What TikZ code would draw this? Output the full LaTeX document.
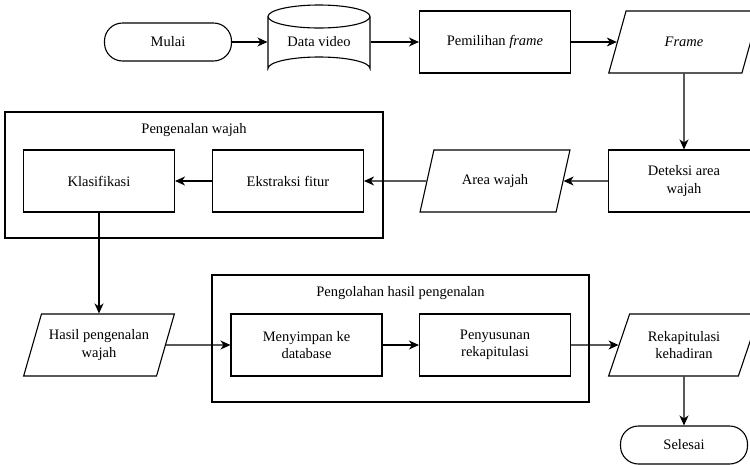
\documentclass[tikz,border=0pt]{standalone}
\usepackage{fontspec}
\setmainfont{Liberation Serif}
\usetikzlibrary{positioning, shapes.geometric, arrows.meta}

\begin{document}
\begin{tikzpicture}[x=1pt, y=-1pt, line width=1.1pt,
    every node/.style={font=\fontsize{14.5}{17.5}\selectfont, align=center},
    proc/.style={draw, rectangle, minimum width=151pt, minimum height=62pt, inner sep=2pt},
    term/.style={draw, rectangle, rounded corners=18pt, minimum width=127pt, minimum height=38pt},
    io/.style={draw, trapezium, trapezium left angle=65, trapezium right angle=115,
               trapezium stretches=true, minimum width=151pt, minimum height=62pt, inner sep=2pt},
    groupbox/.style={draw, rectangle},
    flow/.style={-{Stealth[length=10pt, width=9pt, inset=3pt]}}]
      \useasboundingbox (0,0) rectangle (750,464);
      %% Group boxes
      \node[groupbox, minimum width=378pt, minimum height=126pt] (gpw) at (194,175) {};
      \node (gpwtitle) at (194,130) {Pengenalan wajah};
      \node[groupbox, minimum width=377pt, minimum height=127pt] (gph) at (400.5,338.5) {};
      \node (gphtitle) at (400.5,293) {Pengolahan hasil pengenalan};
      %% Top row
      \node[term] (mulai) at (168,42) {Mulai};
      \node[minimum width=102pt, minimum height=75pt] (video) at (319,42) {Data video};
      \draw (268,16.5) -- (268,68.5) arc[start angle=180, end angle=360, x radius=51, y radius=11.5] -- (370,16.5);
      \draw (319,16.5) ellipse [x radius=51, y radius=11.5];
      \node[proc] (pilih) at (495,42) {Pemilihan \textit{frame}};
      \node[io] (frame) at (684,42) {\textit{Frame}};
      %% Middle row
      \node[proc] (deteksi) at (684,181) {Deteksi area\\wajah};
      \node[io] (area) at (495,181) {Area wajah};
      \node[proc] (fitur) at (288,181) {Ekstraksi fitur};
      \node[proc] (klasif) at (99,181) {Klasifikasi};
      %% Bottom row
      \node[io] (hasil) at (99,345) {Hasil pengenalan\\wajah};
      \node[proc] (simpan) at (306.5,345) {Menyimpan ke\\database};
      \node[proc] (susun) at (495,345) {Penyusunan\\rekapitulasi};
      \node[io] (rekap) at (684,345) {Rekapitulasi\\kehadiran};
      \node[term] (selesai) at (684,445) {Selesai};
      %% Connectors
      \draw[flow] (mulai) -- (video);
      \draw[flow] (video) -- (pilih);
      \draw[flow] (pilih) -- (frame);
      \draw[flow] (frame) -- (deteksi);
      \draw[flow] (deteksi) -- (area);
      \draw[flow] (area) -- (fitur);
      \draw[flow] (fitur) -- (klasif);
      \draw[flow] (klasif) -- (hasil);
      \draw[flow] (hasil) -- (simpan);
      \draw[flow] (simpan) -- (susun);
      \draw[flow] (susun) -- (rekap);
      \draw[flow] (rekap) -- (selesai);
\end{tikzpicture}
\end{document}
